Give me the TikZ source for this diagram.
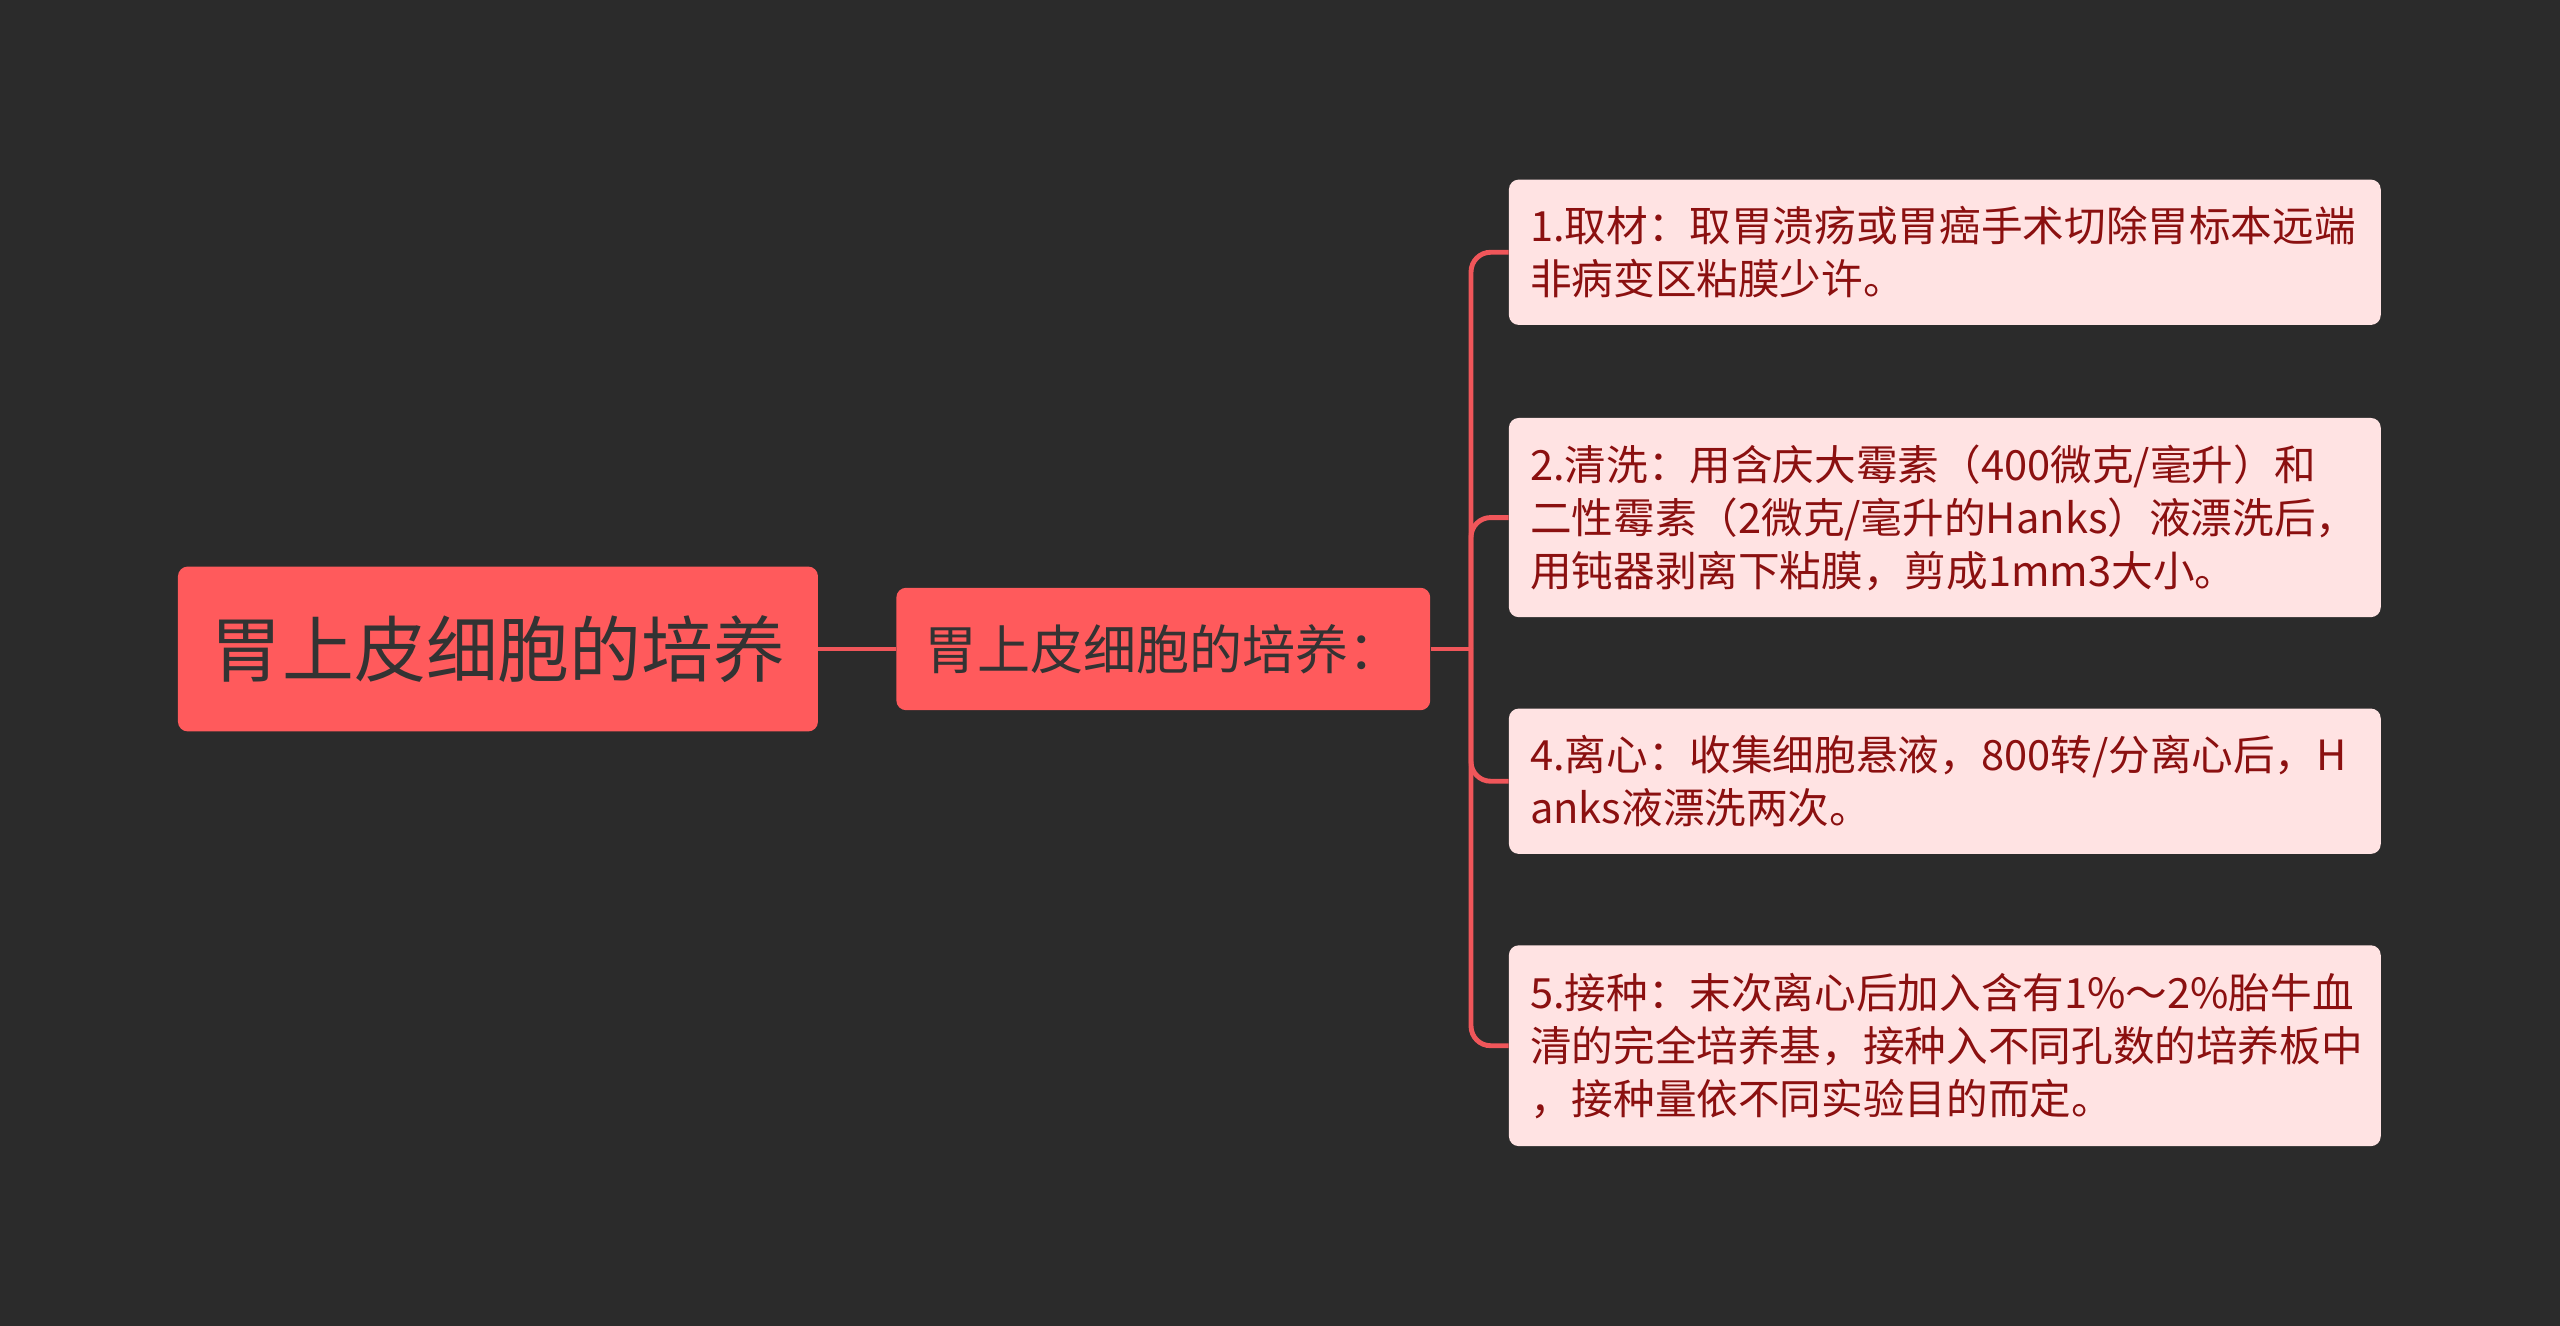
\documentclass[tikz,border=0pt]{standalone}
\usepackage{fontspec}
\setmainfont{Noto Sans CJK SC}
\definecolor{bg}{HTML}{2B2B2B}
\definecolor{main}{HTML}{FF5A5C}
\definecolor{leaf}{HTML}{FFE3E3}
\definecolor{leaftext}{HTML}{8B1010}
\definecolor{line}{HTML}{F0565A}
\begin{document}
\begin{tikzpicture}[x=1pt,y=-1pt,
  rootbox/.style={fill=main,rounded corners=6pt,text=black!80,font=\fontsize{44}{50}\selectfont,minimum width=392pt,minimum height=101pt,inner sep=0pt},
  midbox/.style={fill=main,rounded corners=6pt,text=black!80,font=\fontsize{32.5}{38}\selectfont,minimum width=327pt,minimum height=75pt,inner sep=0pt},
  leafbox/.style={fill=leaf,rounded corners=6pt,text=leaftext,font=\fontsize{25.5}{32.5}\selectfont,anchor=west,minimum width=534pt,text width=508pt,inner xsep=13pt,inner ysep=0pt,align=left},
  conn/.style={draw=line,line width=3pt,rounded corners=12pt}]
\fill[bg] (0,0) rectangle (1568,812);
\node[rootbox] (root) at (305,397.5) {胃上皮细胞的培养};
\node[midbox] (mid) at (712.5,397.5) {胃上皮细胞的培养：};
\node[leafbox,minimum height=89pt] (l1) at (924,154.5) {1.取材：取胃溃疡或胃癌手术切除胃标本远端\\非病变区粘膜少许。};
\node[leafbox,minimum height=122pt] (l2) at (924,317) {2.清洗：用含庆大霉素（400微克/毫升）和\\二性霉素（2微克/毫升的Hanks）液漂洗后，\\用钝器剥离下粘膜，剪成1mm3大小。};
\node[leafbox,minimum height=89pt] (l3) at (924,478.5) {4.离心：收集细胞悬液，800转/分离心后，H\\anks液漂洗两次。};
\node[leafbox,minimum height=123pt] (l4) at (924,640.5) {5.接种：末次离心后加入含有1\%～2\%胎牛血\\清的完全培养基，接种入不同孔数的培养板中\\，接种量依不同实验目的而定。};
\draw[conn] (root.east) -- (mid.west);
\coordinate (j) at (901,397.5);
\draw[conn] (mid.east) -- (j);
\foreach \n in {l1,l2,l3,l4}{\draw[conn] (j) |- (\n.west);}
\end{tikzpicture}
\end{document}
